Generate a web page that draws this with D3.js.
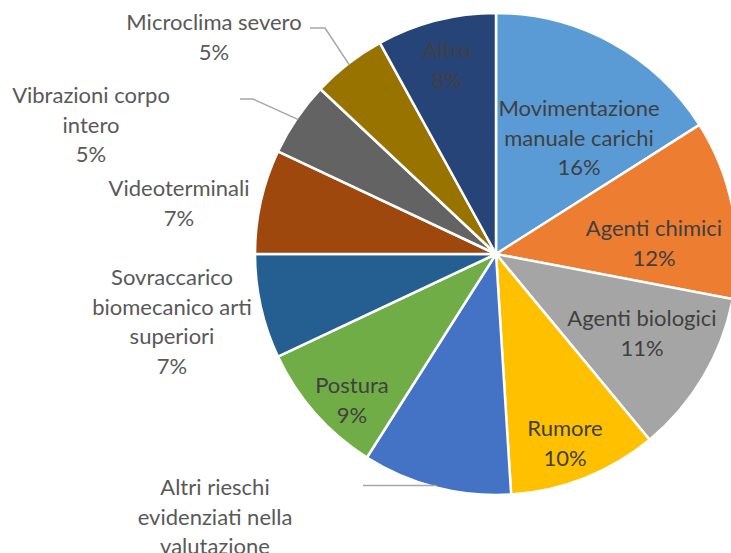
<!doctype html>
<html lang="it">
  <head>
    <meta charset="utf-8">
    <script src="https://d3js.org/d3.v7.min.js"></script>
    <style>
      body { margin: 0; background: #fff; }
      svg { display: block; font-family: Lato, "Open Sans", sans-serif; }
      .lbl { font-size: 22px; text-anchor: middle; }
    </style>
  </head>
  <body>
    <svg width="731" height="553"></svg>
    <script>
      // chart data
      const categories = [
        "Movimentazione manuale carichi",
        "Agenti chimici",
        "Agenti biologici",
        "Rumore",
        "Altri rieschi evidenziati nella valutazione",
        "Postura",
        "Sovraccarico biomecanico arti superiori",
        "Videoterminali",
        "Vibrazioni corpo intero",
        "Microclima severo",
        "Altro"
      ];
      const values = [16, 12, 11, 10, 10, 9, 7, 7, 5, 5, 8];
      const colors = ["#5b9bd5", "#ed7d31", "#a5a5a5", "#ffc000", "#4472c4", "#70ad47",
                      "#255e91", "#9e480e", "#636363", "#997300", "#264478"];

      // label layout: text lines, block position relative to pie centre, leader start
      const labelLines = [
        ["Movimentazione", "manuale carichi", "16%"],
        ["Agenti chimici", "12%"],
        ["Agenti biologici", "11%"],
        ["Rumore", "10%"],
        ["Altri rieschi", "evidenziati nella", "valutazione", "10%"],
        ["Postura", "9%"],
        ["Sovraccarico", "biomecanico arti", "superiori", "7%"],
        ["Videoterminali", "7%"],
        ["Vibrazioni corpo", "intero", "5%"],
        ["Microclima severo", "5%"],
        ["Altro", "8%"]
      ];
      const labelPos = [
        [83, -146], [158, -26], [146, 64], [69, 174], [-281, 233], [-144, 131],
        [-324, 23], [-317, -66], [-405, -159], [-282, -232], [-49, -204]
      ];
      const outside = [4, 6, 7, 8, 9];
      // leader start x (and y, null = level with the slice edge point)
      const leaders = { 4: [[-133, null]], 8: [[-256, -155], [-243, -155]], 9: [[-186, -226], [-171, -226]] };

      const cx = 496, cy = 254, radius = 241, lineH = 29.5;
      const svg = d3.select("svg");
      const g = svg.append("g").attr("transform", `translate(${cx},${cy})`);

      const pie = d3.pie().sort(null).value(d => d);
      const arcs = pie(values);
      const arc = d3.arc().innerRadius(0).outerRadius(radius);
      const edge = d3.arc().innerRadius(radius - 2).outerRadius(radius - 2);

      g.selectAll("path.slice")
        .data(arcs)
        .enter().append("path")
        .attr("class", "slice")
        .attr("d", arc)
        .attr("fill", (d, i) => colors[i])
        .attr("stroke", "#fff")
        .attr("stroke-width", 2.5)
        .attr("stroke-linejoin", "round");

      // leader lines
      Object.keys(leaders).forEach(k => {
        const i = +k;
        const end = edge.centroid(arcs[i]);
        const pts = leaders[i].map(p => [p[0], p[1] === null ? end[1] : p[1]]).concat([end]);
        g.append("path")
          .attr("d", d3.line()(pts))
          .attr("fill", "none")
          .attr("stroke", "#a6a6a6")
          .attr("stroke-width", 1.5);
      });

      labelLines.forEach((lines, i) => {
        const isOut = outside.includes(i);
        const [lx, ly] = labelPos[i];
        const shown = i === 4 ? lines.slice(0, 3) : lines;
        const t = g.append("text")
          .attr("class", "lbl")
          .attr("fill", isOut ? "#595959" : "#404040");
        shown.forEach((s, j) => {
          t.append("tspan")
            .attr("x", lx)
            .attr("y", ly + j * lineH + 8)
            .text(s);
        });
      });
    </script>
  </body>
</html>
